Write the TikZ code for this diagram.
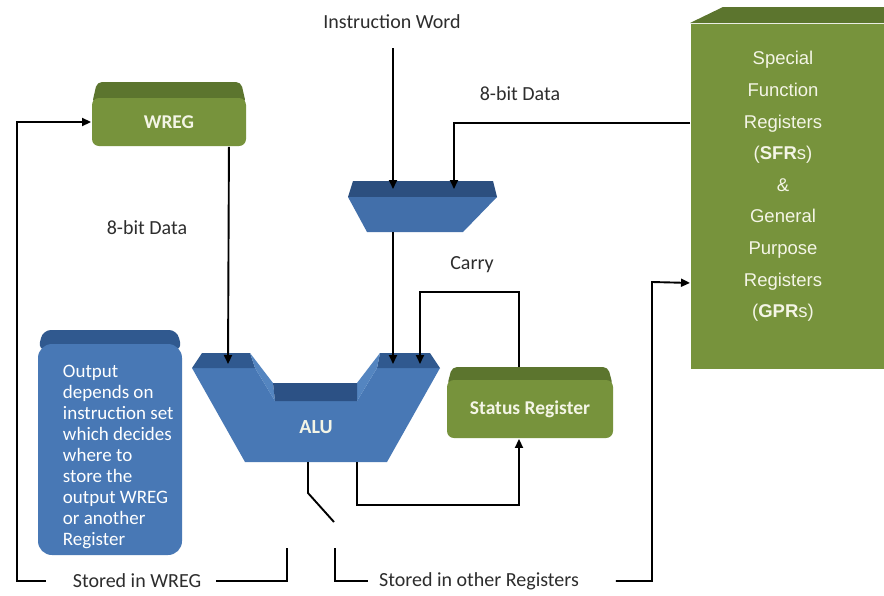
\documentclass[tikz,border=0pt]{standalone}
\usepackage{fontspec}
\setmainfont{Carlito}
\newfontfamily\arialfont{Liberation Sans}
\usetikzlibrary{arrows.meta}
\definecolor{gfront}{RGB}{119,147,60}
\definecolor{gtop}{RGB}{92,117,46}
\definecolor{bfront}{RGB}{72,120,181}
\definecolor{btop}{RGB}{48,89,143}
\definecolor{binner}{RGB}{84,133,192}
\definecolor{bnotch}{RGB}{44,81,133}
\definecolor{mtop}{RGB}{44,79,127}
\definecolor{mfront}{RGB}{66,111,170}
\definecolor{labelgray}{RGB}{45,45,45}
\definecolor{cream}{RGB}{244,245,230}
\begin{document}
\begin{tikzpicture}[x=1pt,y=-1pt,line width=1.9pt,
  arr/.style={-{Triangle[length=9pt,width=8pt]}},
  lbl/.style={font=\fontsize{20}{23}\selectfont,text=labelgray,inner xsep=14pt,inner ysep=2pt},
  greenface/.style={fill=gfront,draw=none,rounded corners=7pt,font=\bfseries\fontsize{19.5}{22}\selectfont,text=cream},
  blueface/.style={fill=bfront,draw=none,rounded corners=14pt}]
\useasboundingbox[fill=white] (0,0) rectangle (884,595);

% ---- WREG register ----
\fill[gtop,rounded corners=5pt] (97,82) -- (241,82) -- (246,104) -- (92,104) -- cycle;
\node[greenface,minimum width=154pt,minimum height=48pt] (wreg) at (169,122) {WREG};

% ---- Status register ----
\fill[gtop,rounded corners=5pt] (452,367) -- (608,367) -- (613,386) -- (447,386) -- cycle;
\node[greenface,minimum width=166pt,minimum height=58pt] (status) at (530,409) {Status Register};

% ---- note box ----
\fill[btop,rounded corners=8pt] (43,330) -- (177,330) -- (182,350) -- (38,350) -- cycle;
\node[blueface,minimum width=144pt,minimum height=211pt] (note) at (110,449.5) {};
\node[anchor=north west,inner sep=0pt,align=left,text=white,
      font=\fontsize{19}{21}\selectfont] (notetext) at (62,364)
  {Output\\depends on\\instruction set\\which decides\\where to\\store the\\output WREG\\or another\\Register};

% ---- SFR / GPR block ----
\node[fill=gfront,minimum width=194pt,minimum height=345pt,anchor=north west,inner sep=0pt] (sfr) at (690,23) {};
\fill[gtop] (690,23) -- (723,7) -- (884,7) -- (884,23) -- cycle;
\node[anchor=north,inner sep=0pt,align=center,text=cream,
      font=\arialfont\fontsize{18.5}{31.6}\selectfont] (sfrtext) at (783,50.5)
  {Special\\Function\\Registers\\(\textbf{SFR}s)\\\&\\General\\Purpose\\Registers\\(\textbf{GPR}s)};

% ---- instruction decoder (MUX) ----
\fill[mtop] (353,181) -- (493,181) -- (497,197) -- (348,197) -- cycle;
\fill[mfront] (348,197) -- (497,197) -- (463,232) -- (367,232) -- cycle;
\coordinate (muxInL) at (393,189);
\coordinate (muxInR) at (454,189);
\coordinate (muxOut) at (393,232);

% ---- ALU ----
\fill[bfront] (192,368) -- (255,368) -- (275,401) -- (357,401) -- (377,368)
  -- (440,368) -- (387,462) -- (245,462) -- cycle;
\fill[btop] (192,368) -- (202,353) -- (250,353) -- (255,368) -- cycle;
\fill[btop] (380,353) -- (430,353) -- (440,368) -- (377,368) -- cycle;
\fill[binner] (250,353) -- (273,383) -- (275,401) -- (255,368) -- cycle;
\fill[binner] (380,353) -- (357,383) -- (357,401) -- (377,368) -- cycle;
\fill[bnotch] (273,383) -- (357,383) -- (357,401) -- (275,401) -- cycle;
\node[font=\bfseries\fontsize{20}{22}\selectfont,text=cream] (alu) at (316,427) {ALU};
\coordinate (aluInL) at (228,364);
\coordinate (aluInR) at (393,364);
\coordinate (aluCarry) at (420,364);
\coordinate (aluOut1) at (308,462);
\coordinate (aluOut2) at (357,462);

% ---- labels ----
\node[lbl] (iw) at (392,22) {Instruction Word};
\node[lbl] (dtop) at (520,94) {8-bit Data};
\node[lbl] (dleft) at (147,228) {8-bit Data};
\node[lbl] (carry) at (472,265) {Carry};
\node[lbl] (sw) at (137,581) {Stored in WREG};
\node[lbl] (so) at (479,581) {Stored in other Registers};

% ---- connectors ----
\coordinate (iwEnd) at (393,48);
\draw[arr] (iwEnd) -- (muxInL);
\draw[arr] ([yshift=73.5]sfr.west) -| (muxInR);
\draw[arr] (muxOut) -- (aluInR);
\draw[arr] ([xshift=-18]wreg.south east) -- (aluInL);
\coordinate (stTop) at (519,367);
\draw[arr] (stTop) -- ++(0,-75) -| (aluCarry);
\draw[arr] (aluOut2) -- ++(0,43) -| ([xshift=-11]status.south);

% output switch
\coordinate (swEnd) at (334,522);
\draw (aluOut1) -- ++(0,31) -- (swEnd);

% return paths
\coordinate (wTap) at (287,548);
\coordinate (oTap) at (335,548);
\coordinate (leftRail) at (17,122);
\coordinate (rightRail) at (652,282);
\draw (wTap) |- (sw.east);
\draw[arr] ([xshift=-12]sw.west) -| (leftRail) -- (wreg.west);
\draw (oTap) |- ([xshift=4]so.west);
\draw[arr] ([xshift=22]so.east) -| (rightRail) -- ([yshift=-86.5]sfr.west);
\end{tikzpicture}
\end{document}
